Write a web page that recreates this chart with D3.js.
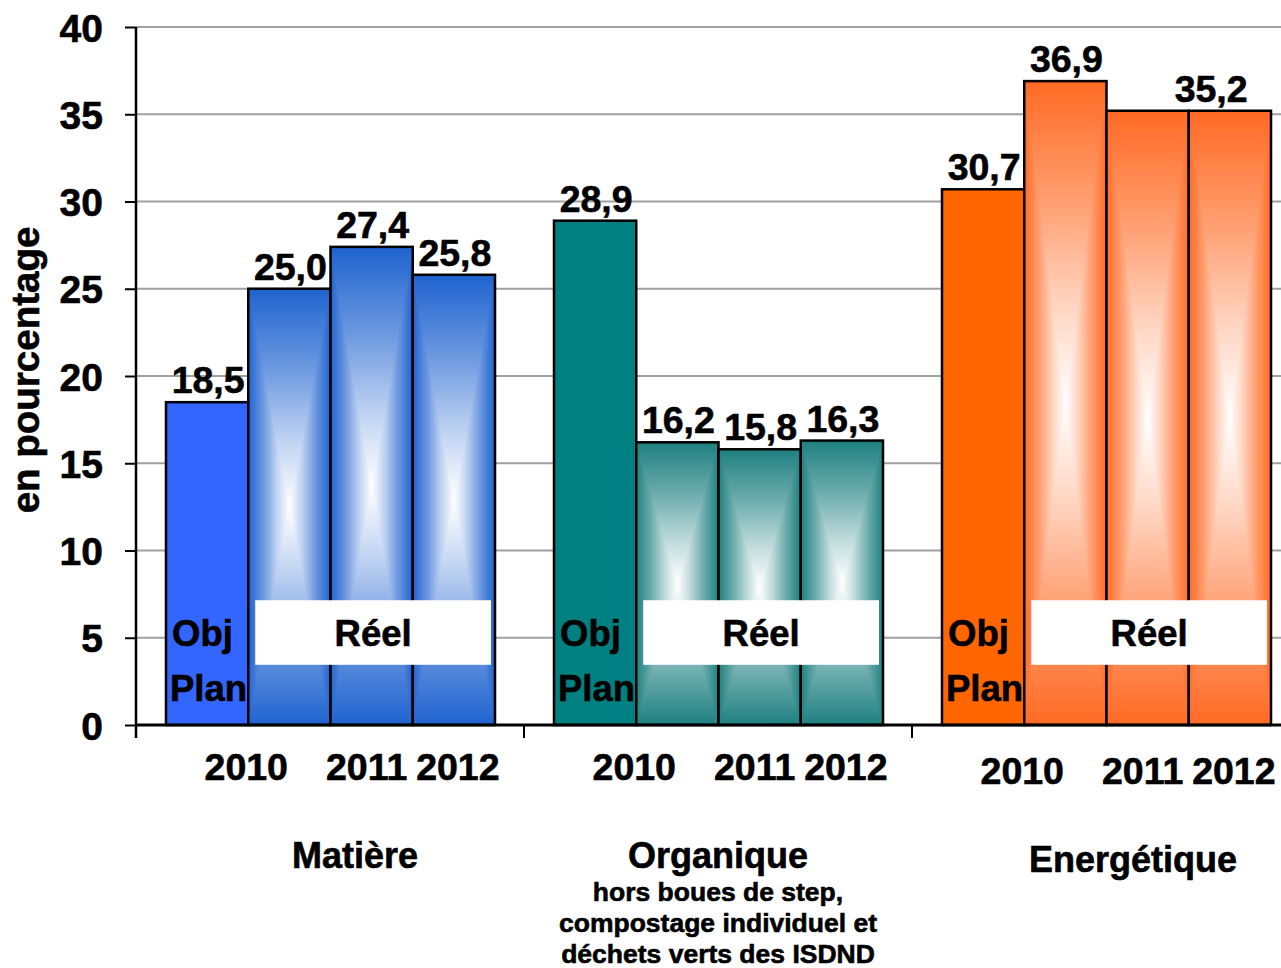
<!DOCTYPE html>
<html>
<head>
<meta charset="utf-8">
<script src="https://cdn.jsdelivr.net/npm/d3@7/dist/d3.min.js"></script>
<style>
  html, body { margin: 0; padding: 0; background: #fff; }
  svg { display: block; }
  text { font-family: Arial, "Liberation Sans", sans-serif; font-weight: bold; fill: #000; stroke: #000; stroke-width: 0.6px; }
</style>
</head>
<body>
<svg id="chart" width="1281" height="968"></svg>
<script>
// ---------- data ----------
const categories = ["Matière", "Organique", "Energétique"];
const series = ["Obj Plan 2010", "Réel 2010", "Réel 2011", "Réel 2012"];
const objPlan2010 = [18.5, 28.9, 30.7];
const reel2010 = [25.0, 16.2, 36.9];
const reel2011 = [27.4, 15.8, 35.2];
const reel2012 = [25.8, 16.3, 35.2];
const yTicks = [0, 5, 10, 15, 20, 25, 30, 35, 40];
const yearLabels = ["2010", "2011", "2012"];
const subtitleOrganique = ["hors boues de step,", "compostage individuel et", "déchets verts des ISDND"];
const yTitle = "en pourcentage";
const objText = ["Obj", "Plan"];
const reelText = "Réel";

// ---------- styles ----------
const solidColors = ["#3366FF", "#008080", "#FF6600"];
const gradColors  = ["#1F63CF", "#1F8080", "#FF6A24"];

const svg = d3.select("#chart");
const W = 1281, H = 968;
const plotTop = 27, plotBottom = 725, plotLeft = 136;

const y = d3.scaleLinear().domain([0, 40]).range([plotBottom, plotTop]);
const x0 = d3.scaleBand().domain(categories).range([plotLeft, plotLeft + 3 * 388]);
const x1 = d3.scaleBand().domain(series).range([30, 359]);

const values = [objPlan2010, reel2010, reel2011, reel2012];

// ---------- gradients ----------
const defs = svg.append("defs");
gradColors.forEach((c, i) => {
  const mix = d3.interpolateRgb(c, "#ffffff");
  const stops = [[0, mix(0)], [0.35, mix(0.33)], [0.7, mix(0.72)], [1, mix(1)]];
  const dirs = { L: [0, 0, 1, 0], R: [1, 0, 0, 0], T: [0, 0, 0, 1], B: [0, 1, 0, 0] };
  Object.entries(dirs).forEach(([k, v]) => {
    const g = defs.append("linearGradient").attr("id", `g${k}${i}`)
      .attr("x1", v[0]).attr("y1", v[1]).attr("x2", v[2]).attr("y2", v[3]);
    stops.forEach(s => g.append("stop").attr("offset", s[0]).attr("stop-color", s[1]));
  });
});

// ---------- gridlines ----------
svg.append("g").selectAll("line").data(yTicks.filter(t => t > 0)).join("line")
  .attr("x1", plotLeft).attr("x2", W)
  .attr("y1", d => y(d)).attr("y2", d => y(d))
  .attr("stroke", "#A0A0A0").attr("stroke-width", 2);

// ---------- bars ----------
const barsG = svg.append("g");
categories.forEach((cat, ci) => {
  series.forEach((s, si) => {
    const v = values[si][ci];
    const bx = x0(cat) + x1(s), bw = x1.bandwidth();
    const by = y(v), bh = y(0) - y(v);
    if (si === 0) {
      barsG.append("rect").attr("x", bx).attr("y", by).attr("width", bw).attr("height", bh)
        .attr("fill", solidColors[ci]);
    } else {
      const cx = bx + bw / 2, cy = by + bh / 2;
      barsG.append("rect").attr("x", bx).attr("y", by).attr("width", bw).attr("height", bh / 2)
        .attr("fill", `url(#gT${ci})`);
      barsG.append("rect").attr("x", bx).attr("y", cy).attr("width", bw).attr("height", bh / 2)
        .attr("fill", `url(#gB${ci})`);
      barsG.append("path").attr("d", `M${bx},${by}L${cx},${cy}L${bx},${by + bh}Z`)
        .attr("fill", `url(#gL${ci})`);
      barsG.append("path").attr("d", `M${bx + bw},${by}L${cx},${cy}L${bx + bw},${by + bh}Z`)
        .attr("fill", `url(#gR${ci})`);
    }
    barsG.append("rect").attr("x", bx).attr("y", by).attr("width", bw).attr("height", bh)
      .attr("fill", "none").attr("stroke", "#000").attr("stroke-width", 2.5);
  });
});

// ---------- value labels ----------
const fmt = v => d3.format(".1f")(v).replace(".", ",");
const labG = svg.append("g").attr("font-size", 37.5).attr("text-anchor", "middle");
categories.forEach((cat, ci) => {
  series.forEach((s, si) => {
    const v = values[si][ci];
    const nextV = si < series.length - 1 ? values[si + 1][ci] : null;
    const prevV = si > 0 ? values[si - 1][ci] : null;
    if (nextV !== null && nextV === v && si > 0) return; // shared label drawn on next bar
    let cx = x0(cat) + x1(s) + x1.bandwidth() / 2;
    if (prevV !== null && prevV === v && si > 1) cx -= x1.bandwidth() * 0.24;
    labG.append("text").attr("x", cx + 1).attr("y", y(v) - 9).text(fmt(v));
  });
});

// ---------- Réel boxes and Obj/Plan text ----------
const annG = svg.append("g").attr("font-size", 36.5);
categories.forEach((cat, ci) => {
  const b1 = x0(cat) + x1(series[1]);
  const b3e = x0(cat) + x1(series[3]) + x1.bandwidth();
  const rx0 = b1 + 7, rx1 = b3e - 4;
  annG.append("rect").attr("x", rx0).attr("y", y(7.15))
    .attr("width", rx1 - rx0).attr("height", y(3.45) - y(7.15)).attr("fill", "#fff");
  annG.append("text").attr("x", (rx0 + rx1) / 2).attr("y", 646)
    .attr("text-anchor", "middle").text(reelText);
  const b0 = x0(cat) + x1(series[0]);
  annG.append("text").attr("x", b0 + 6).attr("y", 646).text(objText[0]);
  annG.append("text").attr("x", b0 + 4).attr("y", 701).text(objText[1]);
});

// ---------- axes ----------
const yAxis = d3.axisLeft(y).tickValues(yTicks).tickSize(11).tickSizeOuter(0).tickPadding(22);
const yg = svg.append("g").attr("transform", `translate(${plotLeft},0)`).call(yAxis);
yg.select(".domain").remove();
yg.selectAll(".tick line").attr("stroke", "#000").attr("stroke-width", 2);
yg.selectAll(".tick text").attr("font-size", 39).attr("font-family", "Arial, 'Liberation Sans', sans-serif")
  .attr("font-weight", "bold").attr("fill", "#000").attr("dy", "0.36em");
svg.append("line").attr("x1", plotLeft).attr("x2", plotLeft).attr("y1", plotTop).attr("y2", plotBottom + 13)
  .attr("stroke", "#000").attr("stroke-width", 2.5);
svg.append("line").attr("x1", plotLeft).attr("x2", W).attr("y1", plotBottom).attr("y2", plotBottom)
  .attr("stroke", "#000").attr("stroke-width", 3);
svg.append("g").selectAll("line").data(categories).join("line")
  .attr("x1", d => x0(d)).attr("x2", d => x0(d))
  .attr("y1", plotBottom).attr("y2", plotBottom + 13)
  .attr("stroke", "#000").attr("stroke-width", 2);

// ---------- category / year labels ----------
const catDx = [219, 194, 221];
const catBase = [868, 868, 872];
const yearBase = [780, 780, 784];
const xl = svg.append("g").attr("text-anchor", "middle");
categories.forEach((cat, ci) => {
  const bs = x0(cat);
  const yx = [
    bs + x1(series[1]) - 2,
    bs + x1(series[2]) + x1.bandwidth() / 2 - 5,
    bs + x1(series[3]) + x1.bandwidth() / 2 + 4
  ];
  yearLabels.forEach((yl, i) => xl.append("text").attr("font-size", 37.5)
    .attr("x", yx[i]).attr("y", yearBase[ci]).text(yl));
  xl.append("text").attr("font-size", 36).attr("x", bs + catDx[ci]).attr("y", catBase[ci]).text(cat);
});
const sub = svg.append("g").attr("font-size", 26.5).attr("text-anchor", "middle");
subtitleOrganique.forEach((t, i) => {
  sub.append("text").attr("x", x0("Organique") + catDx[1]).attr("y", 901 + i * 31).text(t);
});

// ---------- y title ----------
svg.append("text").attr("transform", "translate(39,370) rotate(-90)")
  .attr("text-anchor", "middle").attr("font-size", 38.5).text(yTitle);
</script>
</body>
</html>
